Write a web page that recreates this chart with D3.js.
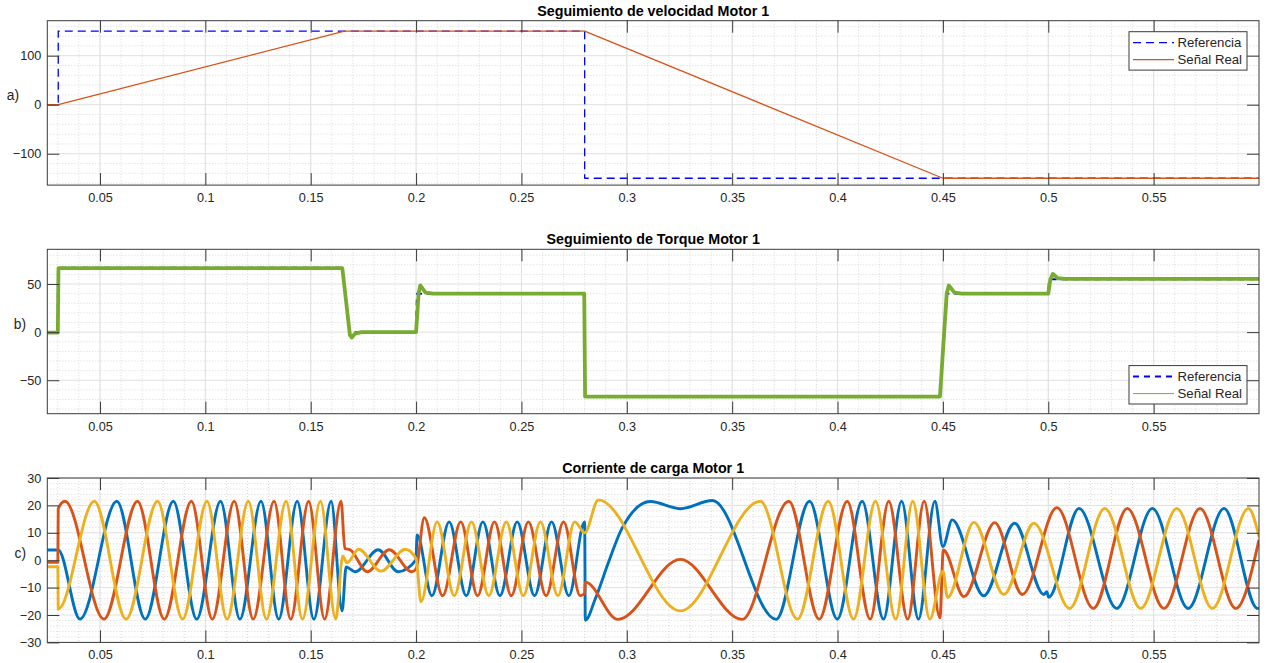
<!DOCTYPE html>
<html>
<head>
<meta charset="utf-8">
<script src="https://cdn.jsdelivr.net/npm/d3@7"></script>
<style>
  html, body { margin: 0; padding: 0; background: #fff; }
  svg { display: block; font-family: "Liberation Sans", Arial, Helvetica, sans-serif; }
</style>
</head>
<body>
<div id="chart"></div>
<script>
"use strict";

// shared time axis
const timeTicks = [0.05, 0.1, 0.15, 0.2, 0.25, 0.3, 0.35, 0.4, 0.45, 0.5, 0.55];
const timeTickLabels = ["0.05", "0.1", "0.15", "0.2", "0.25", "0.3", "0.35", "0.4", "0.45", "0.5", "0.55"];

const titles = ["Seguimiento de velocidad Motor 1", "Seguimiento de Torque Motor 1", "Corriente de carga Motor 1"];
const panelLetters = ["a)", "b)", "c)"];
const legendLabels = ["Referencia", "Señal Real"];

const velTicks = [-100, 0, 100];
const torqueTicks = [-50, 0, 50];
const currentTicks = [-30, -20, -10, 0, 10, 20, 30];

// a) speed, [t, value]
const velRef = [[0.025, 0], [0.0302, 0], [0.0302, 150], [0.28, 150], [0.28, -150], [0.6, -150]];
const velReal = [[0.025, 0], [0.0302, 0], [0.166, 150], [0.28, 150], [0.45, -150], [0.6, -150]];

// b) torque
const torqueRef = [[0.025, 0], [0.0299, 0], [0.0301, 67], [0.165, 67], [0.1684, 0], [0.2, 0], [0.2004, 40],
    [0.28, 40], [0.2802, -67], [0.4486, -67], [0.452, 40], [0.5, 40], [0.5004, 55], [0.6, 55]];
const torqueReal = [[0.025, -0.5], [0.03, -0.5], [0.0303, 66.5], [0.165, 66.5], [0.1686, -3], [0.1695, -5.6],
    [0.171, -1.5], [0.174, 0], [0.2, 0], [0.2012, 40], [0.202, 48.5], [0.2045, 41], [0.208, 40], [0.2798, 40],
    [0.2802, -67], [0.4486, -67], [0.4518, 40], [0.4528, 48.5], [0.4555, 41], [0.459, 40], [0.5, 40], [0.501, 55],
    [0.5022, 60.5], [0.5045, 56], [0.508, 55.3], [0.6, 55.3]];

// c) phase currents, peaks / troughs
const phaseA = [[0.025, 3.7], [0.0302, 3.7], [0.0405, -21.5], [0.058, 21.5], [0.0715, -21.5], [0.0848, 21.5],
    [0.0959, -21.5], [0.1072, 21.5], [0.1164, -21.5], [0.1264, 21.5], [0.1348, -21.5], [0.1436, 21.5],
    [0.1515, -21.5], [0.1597, 21.5], [0.1649, -18.5], [0.1668, -2.5], [0.1711, -4.2], [0.182, 3.8],
    [0.1915, -4.2], [0.1999, 0], [0.2005, 9.2], [0.2075, -13], [0.2157, 14], [0.2238, -13], [0.2317, 14],
    [0.2398, -13], [0.248, 14], [0.2562, -13], [0.2643, 14], [0.2725, -13], [0.28, 14], [0.2803, -21.9],
    [0.2851, -14], [0.2914, -0.6], [0.2977, 11.6], [0.3112, 21.4], [0.3254, 18.8], [0.3406, 21.8],
    [0.3709, -21.6], [0.3867, 21.5], [0.3999, -21.5], [0.4117, 21.5], [0.4218, -21.5], [0.4304, 21.5],
    [0.4384, -21.5], [0.4462, 21.5], [0.45, 5], [0.4544, 14.7], [0.4694, -13], [0.484, 13.5], [0.4979, -12.5],
    [0.4993, -11.5], [0.5002, -13.5], [0.5146, 18.9], [0.5325, -17.6], [0.5494, 18.9], [0.5664, -17.6],
    [0.5834, 18.9], [0.5993, -17.6], [0.6, -17.5]];
const phaseB = [[0.025, -0.8], [0.03, -0.8], [0.0302, 18.9], [0.0334, 21.5], [0.0519, -21.5], [0.0678, 21.5],
    [0.0805, -21.5], [0.0934, 21.5], [0.1033, -21.5], [0.1137, 21.5], [0.1227, -21.5], [0.1326, 21.5],
    [0.1405, -21.5], [0.149, 21.5], [0.1566, -21.5], [0.1644, 21.5], [0.1662, 4.3], [0.1687, 3.8],
    [0.1768, -4.2], [0.1873, 3.8], [0.198, -4.2], [0.2, -3.2], [0.2039, 15.5], [0.2126, -13], [0.2212, 14],
    [0.2292, -13], [0.2372, 14], [0.2452, -13], [0.2533, 14], [0.2617, -13], [0.27, 14], [0.2779, -13],
    [0.28, -12], [0.2803, -8], [0.2958, -21.6], [0.3254, 0.3], [0.3547, -21.6], [0.3769, 21.5], [0.3913, -21.5],
    [0.4046, 21.5], [0.4155, -21.5], [0.4243, 21.5], [0.4333, -21.5], [0.4411, 21.5], [0.4486, -21],
    [0.4502, 3.7], [0.46, -13.3], [0.4746, 13.7], [0.4877, -12.5], [0.5041, 19.2], [0.5214, -17.6],
    [0.5375, 18.9], [0.5549, -17.6], [0.572, 18.9], [0.589, -17.6], [0.6, 7.4]];
const phaseC = [[0.025, -2.4], [0.03, -2.4], [0.0302, -17.8], [0.0473, 21.5], [0.0624, -21.5], [0.0773, 21.5],
    [0.0892, -21.5], [0.1008, 21.5], [0.1103, -21.5], [0.1204, 21.5], [0.129, -21.5], [0.1383, 21.5],
    [0.1461, -21.5], [0.1546, 21.5], [0.1619, -21.5], [0.1652, 1.5], [0.1672, -1], [0.1727, 4], [0.1834, -4],
    [0.1949, 4], [0.2, 0.5], [0.2023, -15.2], [0.21, 14], [0.2181, -13], [0.2263, 14], [0.2345, -13],
    [0.2428, 14], [0.2509, -13], [0.259, 14], [0.2673, -13], [0.2753, 14], [0.28, 10], [0.2865, 22],
    [0.3254, -18.5], [0.3634, 21.5], [0.381, -21.5], [0.3956, 21.5], [0.4076, -21.5], [0.418, 21.5],
    [0.4276, -21.5], [0.4357, 21.5], [0.4438, -21.5], [0.45, -4], [0.4522, -13.6], [0.4647, 13.8],
    [0.4789, -12.5], [0.4932, 13.5], [0.5101, -17.6], [0.5268, 18.9], [0.5439, -17.6], [0.561, 18.9],
    [0.5779, -17.6], [0.595, 18.9], [0.6, 8.6]];

const W = 1267, H = 663;
const left = 47.3, right = 1259;
const plotW = right - left, plotH = 164.4;
const textColor = "#262626";

const svg = d3.select("#chart").append("svg").attr("width", W).attr("height", H);

const x = d3.scaleLinear().domain([0.025, 0.6]).range([0, plotW]);
const minorX = d3.range(0.03, 0.6, 0.01).map(v => +v.toFixed(3));

function drawPanel(p, idx) {
    const g = svg.append("g").attr("transform", `translate(${left},${p.top})`);
    const y = d3.scaleLinear().domain(p.yDomain).range([plotH, 0]);

    // grid: minor dotted then major solid
    g.selectAll(".mx").data(minorX).join("line")
        .attr("x1", d => x(d)).attr("x2", d => x(d)).attr("y1", 0).attr("y2", plotH)
        .attr("stroke", "#cfcfcf").attr("stroke-width", 0.8).attr("stroke-dasharray", "1,2");
    g.selectAll(".my").data(p.minorY).join("line")
        .attr("x1", 0).attr("x2", plotW).attr("y1", d => y(d)).attr("y2", d => y(d))
        .attr("stroke", "#cfcfcf").attr("stroke-width", 0.8).attr("stroke-dasharray", "1,2");
    g.selectAll(".gx").data(timeTicks).join("line")
        .attr("x1", d => x(d)).attr("x2", d => x(d)).attr("y1", 0).attr("y2", plotH)
        .attr("stroke", "#e0e0e0").attr("stroke-width", 1);
    g.selectAll(".gy").data(p.yTicks).join("line")
        .attr("x1", 0).attr("x2", plotW).attr("y1", d => y(d)).attr("y2", d => y(d))
        .attr("stroke", "#e0e0e0").attr("stroke-width", 1);

    const clipId = "clip" + idx;
    g.append("clipPath").attr("id", clipId).append("rect").attr("width", plotW).attr("height", plotH);
    const lines = g.append("g").attr("clip-path", `url(#${clipId})`);

    p.series.forEach(s => {
        const line = d3.line().x(d => x(d[0])).y(d => y(d[1])).curve(s.curve || d3.curveLinear);
        lines.append("path").datum(s.data)
            .attr("d", line)
            .attr("fill", "none")
            .attr("stroke", s.color)
            .attr("stroke-width", s.width)
            .attr("stroke-dasharray", s.dash || null)
            .attr("stroke-linejoin", "round");
    });

    // axes with inward ticks on all four sides
    const tick = 12;
    const xb = g.append("g").attr("transform", `translate(0,${plotH})`)
        .call(d3.axisBottom(x).tickValues(timeTicks).tickFormat((d, i) => timeTickLabels[i])
            .tickSizeInner(-tick).tickSizeOuter(0).tickPadding(8));
    const xt = g.append("g")
        .call(d3.axisTop(x).tickValues(timeTicks).tickFormat("").tickSizeInner(-tick).tickSizeOuter(0));
    const yl = g.append("g")
        .call(d3.axisLeft(y).tickValues(p.yTicks).tickFormat(d3.format("d"))
            .tickSizeInner(-tick).tickSizeOuter(0).tickPadding(6));
    const yr = g.append("g").attr("transform", `translate(${plotW},0)`)
        .call(d3.axisRight(y).tickValues(p.yTicks).tickFormat("").tickSizeInner(-tick).tickSizeOuter(0));
    [xb, xt, yl, yr].forEach(a => {
        a.select(".domain").remove();
        a.selectAll(".tick line").attr("stroke", "#3a3a3a");
        a.selectAll("text").attr("font-size", "12.7px").attr("fill", textColor).attr("font-family", null);
    });

    g.append("rect").attr("width", plotW).attr("height", plotH)
        .attr("fill", "none").attr("stroke", "#3a3a3a").attr("stroke-width", 1);

    // title
    g.append("text").attr("x", plotW / 2).attr("y", -5).attr("text-anchor", "middle")
        .attr("font-size", "14.3px").attr("font-weight", "bold").attr("fill", "#000")
        .text(titles[idx]);

    // y label
    g.append("text").attr("x", p.letterX - left).attr("y", plotH / 2 - 7)
        .attr("text-anchor", "end").attr("dominant-baseline", "central")
        .attr("font-size", "13.8px").attr("fill", textColor).text(panelLetters[idx]);

    // legend
    if (p.legend) {
        const lw = 118, lh = 38.4;
        const lx = plotW - 12 - lw;
        const ly = p.legend === "top" ? 11 : plotH - 9.7 - lh;
        const lg = g.append("g").attr("transform", `translate(${lx},${ly})`);
        lg.append("rect").attr("width", lw).attr("height", lh)
            .attr("fill", "#fff").attr("stroke", "#3a3a3a").attr("stroke-width", 1);
        p.series.forEach((s, i) => {
            const ry = 11 + i * 17;
            lg.append("line").attr("x1", 4).attr("x2", 45).attr("y1", ry).attr("y2", ry)
                .attr("stroke", s.color).attr("stroke-width", s.legendWidth)
                .attr("stroke-dasharray", s.dash || null);
            lg.append("text").attr("x", 48.5).attr("y", ry).attr("dominant-baseline", "central")
                .attr("font-size", "13.2px").attr("fill", textColor).text(legendLabels[i]);
        });
    }
}

const panels = [
    {
        top: 20.7, yDomain: [-164, 171.4], yTicks: velTicks,
        minorY: d3.range(-160, 171, 20).filter(v => v % 100 !== 0),
        letterX: 19, legend: "top",
        series: [
            { data: velRef, color: "#0000ff", width: 1.3, dash: "8,5", legendWidth: 1.3 },
            { data: velReal, color: "#d95319", width: 1.3, legendWidth: 1.3 }
        ]
    },
    {
        top: 249.3, yDomain: [-84.8, 86.1], yTicks: torqueTicks,
        minorY: d3.range(-80, 86, 10).filter(v => v % 50 !== 0),
        letterX: 26, legend: "bottom",
        series: [
            { data: torqueRef, color: "#0000ff", width: 2, dash: "6,5", legendWidth: 2 },
            { data: torqueReal, color: "#77ac30", width: 3.8, legendWidth: 1 }
        ]
    },
    {
        top: 478, yDomain: [-30, 30], yTicks: currentTicks,
        minorY: d3.range(-28, 30, 2).filter(v => v % 10 !== 0),
        letterX: 26, legend: null,
        series: [
            { data: phaseA, color: "#0072bd", width: 2.9, curve: d3.curveMonotoneX },
            { data: phaseB, color: "#d95319", width: 2.9, curve: d3.curveMonotoneX },
            { data: phaseC, color: "#edb120", width: 2.9, curve: d3.curveMonotoneX }
        ]
    }
];

panels.forEach(drawPanel);
</script>
</body>
</html>
